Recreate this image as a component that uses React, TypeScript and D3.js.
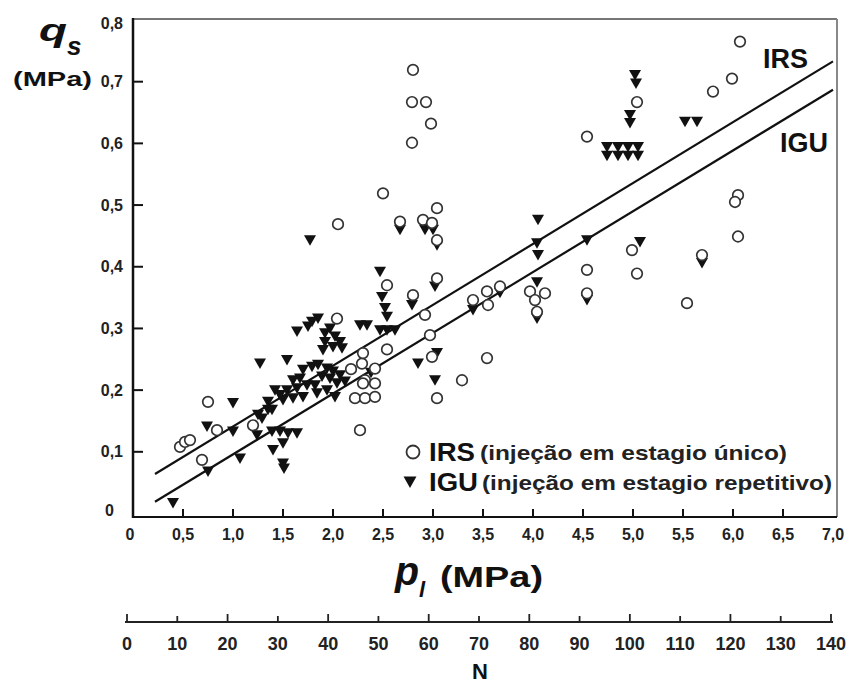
import React from 'react';
import * as d3 from 'd3';

// IRS (open circles): [p_l (MPa), q_s (MPa)]
const irsPoints: [number, number][] = [
  [0.47, 0.108], [0.52, 0.116], [0.57, 0.119], [0.69, 0.087], [0.75, 0.181], [0.84, 0.135], [1.2, 0.143],
  [2.04, 0.316], [2.18, 0.234], [2.29, 0.243], [2.3, 0.26], [2.42, 0.235], [2.32, 0.216], [2.42, 0.211],
  [2.3, 0.211], [2.22, 0.187], [2.32, 0.187], [2.42, 0.189], [2.27, 0.135], [2.54, 0.266],
  [2.54, 0.37], [2.8, 0.354], [3.04, 0.381], [2.92, 0.322], [2.97, 0.289], [2.99, 0.254], [3.04, 0.187],
  [3.29, 0.216], [3.54, 0.252], [3.4, 0.346], [3.54, 0.36], [3.67, 0.368], [3.55, 0.338], [3.97, 0.36],
  [4.12, 0.357], [4.02, 0.346], [4.04, 0.327], [4.54, 0.395], [4.54, 0.357],
  [2.8, 0.719], [2.79, 0.667], [2.93, 0.667], [2.98, 0.632], [2.79, 0.601], [2.5, 0.519], [2.05, 0.469],
  [4.54, 0.611], [3.04, 0.495], [2.67, 0.473], [2.9, 0.476], [2.99, 0.471], [3.04, 0.443],
  [6.07, 0.765], [5.99, 0.705], [5.8, 0.684], [5.04, 0.667], [6.05, 0.516], [6.02, 0.505], [6.05, 0.449],
  [4.99, 0.427], [5.04, 0.389], [5.69, 0.419], [5.54, 0.341],
];

// IGU (filled down triangles)
const iguPoints: [number, number][] = [
  [0.4, 0.017], [0.75, 0.068], [0.74, 0.141], [1.0, 0.133], [1.0, 0.179], [1.07, 0.089], [1.27, 0.243],
  [1.54, 0.249], [1.64, 0.295], [1.29, 0.154], [1.35, 0.168], [1.24, 0.127], [1.39, 0.133], [1.47, 0.133],
  [1.55, 0.13], [1.64, 0.13], [1.4, 0.103], [1.5, 0.114], [1.5, 0.081], [1.51, 0.073],
  [1.79, 0.311], [1.85, 0.316], [1.75, 0.303], [1.92, 0.292], [1.97, 0.3], [2.02, 0.287], [2.07, 0.278],
  [1.9, 0.265], [2.0, 0.27], [2.09, 0.268], [1.92, 0.278],
  [1.7, 0.233], [1.79, 0.238], [1.85, 0.241], [1.94, 0.235], [2.0, 0.23], [2.07, 0.224], [1.89, 0.222],
  [1.97, 0.219], [2.04, 0.211], [2.12, 0.214], [1.6, 0.216], [1.67, 0.219], [1.54, 0.2], [1.64, 0.203],
  [1.74, 0.208], [1.82, 0.208], [1.84, 0.195], [1.94, 0.2], [2.02, 0.189], [1.42, 0.2], [1.47, 0.192],
  [1.35, 0.181], [1.5, 0.184], [1.39, 0.168], [1.25, 0.16], [1.6, 0.187], [1.7, 0.189], [2.38, 0.228],
  [2.27, 0.305], [2.34, 0.305], [2.47, 0.297], [2.54, 0.297], [2.62, 0.297],
  [2.49, 0.351], [2.52, 0.333], [2.54, 0.319], [2.47, 0.392],
  [1.77, 0.443], [2.67, 0.46], [2.92, 0.46], [3.0, 0.46], [3.04, 0.435], [3.02, 0.368], [2.79, 0.338],
  [3.04, 0.26], [2.85, 0.243], [3.02, 0.216], [3.4, 0.33], [3.67, 0.358],
  [4.05, 0.476], [4.04, 0.438], [4.05, 0.419], [4.04, 0.375], [4.04, 0.316], [4.54, 0.443], [4.54, 0.346],
  [5.02, 0.711], [5.03, 0.697], [4.97, 0.646], [4.97, 0.633],
  [4.74, 0.594], [4.85, 0.594], [4.95, 0.594], [5.05, 0.594],
  [4.74, 0.58], [4.85, 0.58], [4.95, 0.58], [5.05, 0.58],
  [5.52, 0.635], [5.64, 0.635], [5.07, 0.44], [5.69, 0.406],
];

const irsFit: [number, number][] = [[0.22, 0.064], [7.0, 0.733]];
const iguFit: [number, number][] = [[0.22, 0.019], [7.0, 0.687]];

const pTickValues = [0, 0.5, 1, 1.5, 2, 2.5, 3, 3.5, 4, 4.5, 5, 5.5, 6, 6.5, 7];
const pTickLabels = ['0', '0,5', '1,0', '1,5', '2,0', '2,5', '3,0', '3,5', '4,0', '4,5', '5,0', '5,5', '6,0', '6,5', '7,0'];
const qTickValues = [0, 0.1, 0.2, 0.3, 0.4, 0.5, 0.6, 0.7, 0.8];
const qTickLabels = ['0', '0,1', '0,2', '0,3', '0,4', '0,5', '0,6', '0,7', '0,8'];
const nTickValues = [0, 10, 20, 30, 40, 50, 60, 70, 80, 90, 100, 110, 120, 130, 140];

const FONT = '"Liberation Sans", Arial, Helvetica, sans-serif';

export default function App() {
  const W = 852;
  const H = 684;
  const x = d3.scaleLinear().domain([0, 7]).range([133, 833]);
  const y = d3.scaleLinear().domain([0, 0.8]).range([513.5, 20]);
  const n = d3.scaleLinear().domain([0, 140]).range([127, 831]);
  const line = d3.line<[number, number]>().x((d) => x(d[0])).y((d) => y(d[1]));

  const left = 133;
  const right = 837;
  const top = 19;
  const bottom = 517;
  const nAxisY = 622;
  const tri = 'M-6,-5L6,-5L0,5.5Z';
  const triLegend = 'M-6.5,-5.5L6.5,-5.5L0,6Z';

  return (
    <svg
      width={W}
      height={H}
      viewBox={`0 0 ${W} ${H}`}
      style={{ position: 'absolute', left: 0, top: 0, background: '#fff' }}
      fontFamily={FONT}
    >
      <rect x={0} y={0} width={W} height={H} fill="#fff" />

      {/* frame */}
      <line x1={left} y1={top} x2={right} y2={top} stroke="#777" strokeWidth={2} />
      <line x1={right} y1={top} x2={right} y2={bottom} stroke="#888" strokeWidth={2} />
      <line x1={left} y1={top - 1} x2={left} y2={bottom + 1} stroke="#111" strokeWidth={2.5} />
      <line x1={left} y1={bottom} x2={right} y2={bottom} stroke="#111" strokeWidth={2.2} />

      {/* x ticks */}
      {pTickValues.map((v, i) => (
        <g key={`px${i}`}>
          {v > 0 && v < 7 && (
            <line x1={x(v)} x2={x(v)} y1={bottom} y2={bottom - 8} stroke="#111" strokeWidth={2} />
          )}
          <text
            x={v === 0 ? x(v) - 3 : x(v)}
            y={bottom + 23}
            textAnchor="middle"
            fontSize={16}
            fontWeight="bold"
            fill="#222"
          >
            {pTickLabels[i]}
          </text>
        </g>
      ))}

      {/* y ticks */}
      {qTickValues.map((v, i) => (
        <g key={`qy${i}`}>
          {v > 0 && v < 0.8 && (
            <line x1={left} x2={left + 10} y1={y(v)} y2={y(v)} stroke="#111" strokeWidth={2} />
          )}
          <text
            x={v === 0 ? left - 19 : left - 10}
            y={(v === 0 ? y(v) - 3.5 : v === 0.8 ? y(v) + 3 : y(v)) + 5.5}
            textAnchor="end"
            fontSize={16}
            fontWeight="bold"
            fill="#222"
          >
            {qTickLabels[i]}
          </text>
        </g>
      ))}

      {/* fitted lines */}
      <path d={line(irsFit) || ''} fill="none" stroke="#111" strokeWidth={2.2} />
      <path d={line(iguFit) || ''} fill="none" stroke="#111" strokeWidth={2.2} />

      {/* IGU triangles */}
      {iguPoints.map((d, i) => (
        <path key={`t${i}`} d={tri} transform={`translate(${x(d[0])},${y(d[1])})`} fill="#111" />
      ))}

      {/* IRS circles */}
      {irsPoints.map((d, i) => (
        <circle key={`c${i}`} cx={x(d[0])} cy={y(d[1])} r={5.3} fill="#fff" stroke="#333" strokeWidth={1.7} />
      ))}

      {/* line labels */}
      <text x={763} y={68} fontSize={27} fontWeight="bold" fill="#111">IRS</text>
      <text x={780} y={152} fontSize={27} fontWeight="bold" fill="#111">IGU</text>

      {/* legend */}
      <circle cx={413} cy={452} r={6.5} fill="#fff" stroke="#333" strokeWidth={1.8} />
      <text x={429} y={461} fontSize={25} fontWeight="bold" fill="#111" textLength={46} lengthAdjust="spacingAndGlyphs">IRS</text>
      <text x={480} y={460} fontSize={21} fontWeight="bold" fill="#222" textLength={307} lengthAdjust="spacingAndGlyphs">(injeção em estagio único)</text>
      <path d={triLegend} transform="translate(410,482)" fill="#111" />
      <text x={429} y={491} fontSize={25} fontWeight="bold" fill="#111" textLength={49} lengthAdjust="spacingAndGlyphs">IGU</text>
      <text x={482} y={490} fontSize={21} fontWeight="bold" fill="#222" textLength={350} lengthAdjust="spacingAndGlyphs">(injeção em estagio repetitivo)</text>

      {/* y axis title */}
      <text x={39} y={41} fontSize={32} fontWeight="bold" fontStyle="italic" fill="#111" textLength={28} lengthAdjust="spacingAndGlyphs">q</text>
      <text x={67} y={55} fontSize={26} fontWeight="bold" fontStyle="italic" fill="#111">s</text>
      <text x={13} y={86} fontSize={21} fontWeight="bold" fill="#111" textLength={79} lengthAdjust="spacingAndGlyphs">(MPa)</text>

      {/* x axis title */}
      <text x={395} y={585} fontSize={40} fontWeight="bold" fontStyle="italic" fill="#111" textLength={24} lengthAdjust="spacingAndGlyphs">p</text>
      <text x={419} y={597} fontSize={22} fontWeight="bold" fontStyle="italic" fill="#111">l</text>
      <text x={440} y={587} fontSize={29} fontWeight="bold" fill="#111" textLength={103} lengthAdjust="spacingAndGlyphs">(MPa)</text>

      {/* N axis */}
      <line x1={n(0) - 2} x2={n(140) + 2} y1={nAxisY} y2={nAxisY} stroke="#222" strokeWidth={1.8} />
      {nTickValues.map((v, i) => (
        <g key={`n${i}`}>
          <line x1={n(v)} x2={n(v)} y1={nAxisY} y2={nAxisY - (i % 2 === 0 ? 8 : 6)} stroke="#222" strokeWidth={1.8} />
          <text x={n(v)} y={nAxisY + 28} textAnchor="middle" fontSize={18} fontWeight="bold" fill="#222">
            {String(v)}
          </text>
        </g>
      ))}
      <text x={480} y={679} textAnchor="middle" fontSize={22} fontWeight="bold" fill="#111">N</text>
    </svg>
  );
}
